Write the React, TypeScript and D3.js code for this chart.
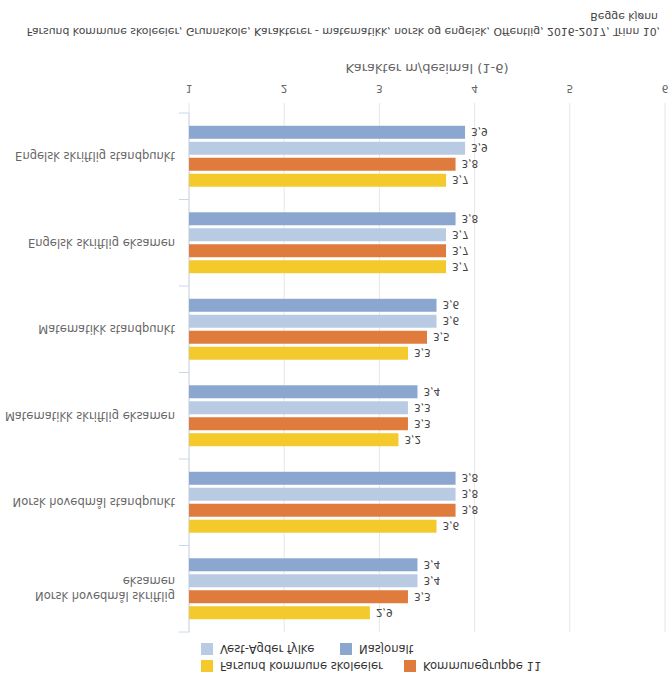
import React from "react";
import * as d3 from "d3";

const categories = [
  "Engelsk skriftlig standpunkt",
  "Engelsk skriftlig eksamen",
  "Matematikk standpunkt",
  "Matematikk skriftlig eksamen",
  "Norsk hovedmål standpunkt",
  "Norsk hovedmål skriftlig eksamen",
];
const categoryLines: string[][] = [
  ["Engelsk skriftlig standpunkt"],
  ["Engelsk skriftlig eksamen"],
  ["Matematikk standpunkt"],
  ["Matematikk skriftlig eksamen"],
  ["Norsk hovedmål standpunkt"],
  ["eksamen", "Norsk hovedmål skriftlig"],
];
const seriesNames = ["Nasjonalt", "Vest-Agder fylke", "Kommunegruppe 11", "Farsund kommune skoleeier"];
const nasjonalt = [3.9, 3.8, 3.6, 3.4, 3.8, 3.4];
const vestAgder = [3.9, 3.7, 3.6, 3.3, 3.8, 3.4];
const kommunegruppe = [3.8, 3.7, 3.5, 3.3, 3.8, 3.3];
const farsund = [3.7, 3.7, 3.3, 3.2, 3.6, 2.9];
const seriesValues = [nasjonalt, vestAgder, kommunegruppe, farsund];
const seriesColors = ["#8ba7cf", "#b9cbe3", "#e07b3e", "#f3c92b"];
const xTicks = [1, 2, 3, 4, 5, 6];
const titleLine1 = "Farsund kommune skoleeier, Grunnskole, Karakterer - matematikk, norsk og engelsk, Offentlig, 2016-2017, Trinn 10,";
const titleLine2 = "Begge kjønn";
const axisTitle = "Karakter m/desimal (1-6)";

const FONT = "'DejaVu Sans', Verdana, sans-serif";

function FlipText(props: { x: number; y: number; anchor?: string; size?: number; fill?: string; children: React.ReactNode; weight?: string }) {
  const { x, y, anchor = "start", size = 12, fill = "#333", children, weight = "normal" } = props;
  return (
    <text
      transform={`translate(${x},${y}) scale(1,-1)`}
      textAnchor={anchor}
      fontSize={size}
      fill={fill}
      fontFamily={FONT}
      fontWeight={weight}
    >
      {children}
    </text>
  );
}

export default function App() {
  const W = 672, H = 680;
  const left = 189, right = 665, top = 113, bottom = 632;
  const x = d3.scaleLinear().domain([1, 6]).range([left, right]);
  const y0 = d3.scaleBand<string>().domain(categories).range([top, bottom]).padding(0);
  const y1 = d3.scaleBand<string>().domain(seriesNames).range([0, y0.bandwidth()]).paddingInner(0.1875).paddingOuter(0.8);
  const fmt = (v: number) => d3.format(".1f")(v).replace(".", ",");

  const legendItems = [
    { name: "Vest-Agder fylke", color: seriesColors[1], sx: 201, sy: 643 },
    { name: "Nasjonalt", color: seriesColors[0], sx: 340, sy: 643 },
    { name: "Farsund kommune skoleeier", color: seriesColors[3], sx: 201, sy: 660 },
    { name: "Kommunegruppe 11", color: seriesColors[2], sx: 404, sy: 660 },
  ];

  return (
    <svg width={W} height={H} style={{ position: "absolute", left: 0, top: 0, background: "#fff" }}>
      <rect x={0} y={0} width={W} height={H} fill="#fff" />
      {xTicks.map((t) => (
        <line key={t} x1={x(t)} x2={x(t)} y1={103} y2={bottom} stroke="#e6e6e6" strokeWidth={1} />
      ))}
      <line x1={left} x2={left} y1={top} y2={bottom} stroke="#ccd6eb" />
      {d3.range(categories.length + 1).map((i) => {
        const yy = top + i * y0.step();
        return <line key={i} x1={179} x2={left} y1={yy} y2={yy} stroke="#ccd6eb" />;
      })}
      {categories.map((c, ci) => (
        <g key={c} transform={`translate(0,${y0(c)})`}>
          {seriesNames.map((s, si) => {
            const v = seriesValues[si][ci];
            const by = y1(s)!;
            return (
              <g key={s}>
                <rect x={x(1)} y={by} width={x(v) - x(1)} height={y1.bandwidth()} fill={seriesColors[si]} />
                <FlipText x={x(v) + 6} y={by + y1.bandwidth() / 2 - 4} size={10.5} fill="#444">
                  {fmt(v)}
                </FlipText>
              </g>
            );
          })}
        </g>
      ))}
      {categories.map((c, ci) => {
        const lines = categoryLines[ci];
        const cy = y0(c)! + y0.bandwidth() / 2;
        return lines.map((ln, li) => (
          <FlipText key={c + li} x={175} y={cy - 4 + (li - (lines.length - 1) / 2) * 15} anchor="end" size={11.5} fill="#666">
            {ln}
          </FlipText>
        ));
      })}
      {xTicks.map((t) => (
        <FlipText key={t} x={x(t)} y={85} anchor="middle" size={10.5} fill="#666">
          {String(t)}
        </FlipText>
      ))}
      <FlipText x={(left + right) / 2} y={64} anchor="middle" size={13} fill="#666">
        {axisTitle}
      </FlipText>
      <FlipText x={660} y={28} anchor="end" size={10.85} fill="#444">
        {titleLine1}
      </FlipText>
      <FlipText x={658} y={13} anchor="end" size={10.85} fill="#444">
        {titleLine2}
      </FlipText>
      {legendItems.map((it) => (
        <g key={it.name}>
          <rect x={it.sx} y={it.sy} width={12} height={12} fill={it.color} />
          <FlipText x={it.sx + 19} y={it.sy + 2} size={11.6} fill="#333">
            {it.name}
          </FlipText>
        </g>
      ))}
    </svg>
  );
}
